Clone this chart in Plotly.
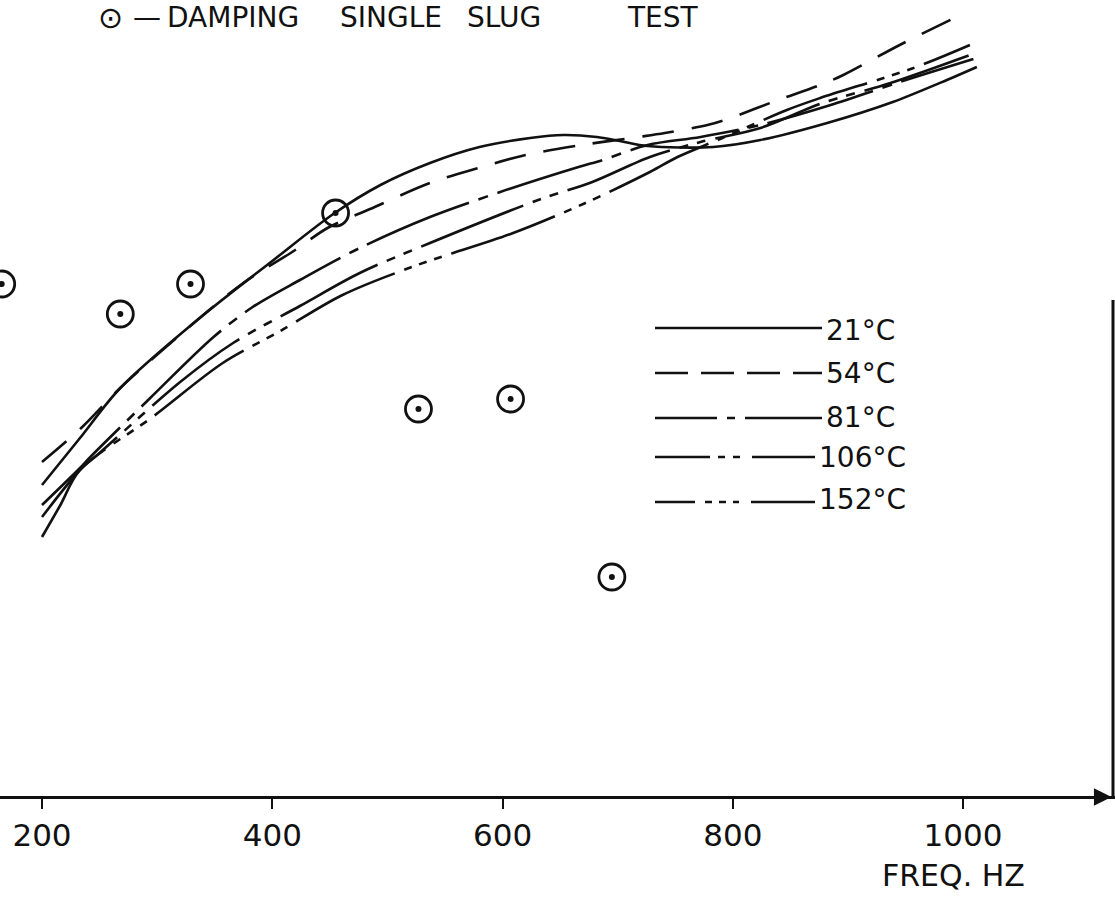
import plotly.graph_objects as go

# ---------------- data (y in arbitrary units above the axis) ----------------
FREQ_TICKS = [200, 400, 600, 800, 1000]

T21_F = [200, 233, 268, 337, 400, 453, 494, 537, 580, 624, 653, 682, 702, 726, 783, 824, 882, 939, 986, 1012]
T21_Y = [31.2, 35.9, 40.9, 47.9, 53.6, 58.3, 61.2, 63.4, 65.0, 65.9, 66.2, 66.0, 65.6, 65.1, 65.0, 65.7, 67.4, 69.5, 71.7, 73.0]

T54_F = [200, 235, 268, 337, 376, 420, 448, 489, 537, 579, 620, 669, 718, 741, 778, 798, 837, 876, 896, 945, 1003]
T54_Y = [33.5, 37.0, 40.9, 47.9, 51.5, 54.7, 56.9, 59.0, 61.4, 62.9, 64.2, 65.2, 66.0, 66.4, 67.2, 67.9, 69.6, 71.2, 72.2, 75.2, 78.5]

T81_F = [200, 233, 242, 294, 349, 383, 424, 476, 537, 598, 666, 687, 726, 772, 824, 885, 945, 1009]
T81_Y = [29.2, 32.9, 34.0, 39.9, 46.0, 49.0, 51.7, 54.9, 58.0, 60.5, 63.0, 63.7, 65.2, 66.0, 67.2, 69.2, 71.5, 73.8]

T106_F = [200, 233, 250, 320, 366, 424, 476, 537, 631, 678, 728, 772, 824, 878, 937, 1006]
T106_Y = [28.0, 32.7, 34.4, 41.5, 45.4, 49.1, 52.4, 55.4, 59.7, 61.5, 64.0, 65.5, 66.9, 69.4, 71.4, 74.2]

T152_F = [200, 216, 233, 296, 357, 407, 461, 526, 607, 672, 728, 752, 791, 847, 876, 957, 1006]
T152_Y = [26.0, 29.2, 32.7, 38.0, 43.4, 46.6, 50.2, 53.2, 56.3, 59.4, 62.5, 64.0, 65.9, 68.7, 69.9, 72.9, 75.2]

SLUG_F = [165, 268, 329, 455, 527, 607, 695]
SLUG_Y = [51.3, 48.3, 51.3, 58.4, 38.8, 39.8, 22.0]

SERIES = [
    ("21°C", T21_F, T21_Y, "solid"),
    ("54°C", T54_F, T54_Y, "32px,18px"),
    ("81°C", T81_F, T81_Y, "110px,10px,10px,10px"),
    ("106°C", T106_F, T106_Y, "110px,10px,9px,9px,9px,10px"),
    ("152°C", T152_F, T152_Y, "110px,10px,8px,8px,8px,8px,8px,10px"),
]

LEGEND_DASH = {
    "21°C": "solid",
    "54°C": "33px,13px",
    "81°C": "62px,10px,8px,10px,300px",
    "106°C": "55px,8px,7px,8px,7px,12px,300px",
    "152°C": "40px,10px,7px,7px,7px,7px,6px,12px,300px",
}

W, H = 1115, 899
FONT = "DejaVu Sans"
INK = "#111111"


def px(x):
    return x / W


def py(y):
    return 1 - y / H


fig = go.Figure()

for name, fx, fy, dash in SERIES:
    fig.add_trace(go.Scatter(
        x=fx, y=fy, mode="lines", name=name,
        line=dict(color=INK, width=2.6, dash=dash, shape="spline", smoothing=0.9),
        showlegend=False,
    ))

fig.add_trace(go.Scatter(
    x=SLUG_F, y=SLUG_Y, mode="markers", name="DAMPING SINGLE SLUG TEST",
    marker=dict(symbol="circle-open", size=26, color=INK, line=dict(color=INK, width=2.8)),
    showlegend=False,
))
fig.add_trace(go.Scatter(
    x=SLUG_F, y=SLUG_Y, mode="markers", name="centre dots",
    marker=dict(symbol="circle", size=6, color=INK),
    showlegend=False, hoverinfo="skip",
))

shapes = []
annotations = []

# legend samples drawn by hand, as in the original
legend_rows = [("21°C", 328, 330), ("54°C", 373, 373), ("81°C", 418, 417),
               ("106°C", 457, 457), ("152°C", 502, 499)]
for label, ly, ty in legend_rows:
    x_end = 822 if label in ("21°C", "54°C", "81°C") else 815
    shapes.append(dict(type="line", xref="paper", yref="paper",
                       x0=px(655), x1=px(x_end), y0=py(ly), y1=py(ly),
                       line=dict(color=INK, width=2.6, dash=LEGEND_DASH[label])))
    annotations.append(dict(text=label, xref="paper", yref="paper",
                            x=px(x_end + 2), y=py(ty), xanchor="left", yanchor="middle",
                            showarrow=False, font=dict(family=FONT, size=28, color=INK)))

# right-hand frame line
shapes.append(dict(type="line", xref="paper", yref="paper",
                   x0=px(1113), x1=px(1113), y0=py(797), y1=py(300),
                   line=dict(color=INK, width=3)))

# arrow head at the end of the frequency axis
annotations.append(dict(x=1129, y=0, xref="x", yref="y", ax=-28, ay=0, text="",
                        showarrow=True, arrowhead=2, arrowsize=1.6, arrowwidth=2.2,
                        arrowcolor=INK))

# title words
title_words = [("⊙", 96, 30), ("—", 131, 28), ("DAMPING", 165, 28), ("SINGLE", 338, 28),
               ("SLUG", 465, 28), ("TEST", 625, 28)]
for word, x0, sz in title_words:
    annotations.append(dict(text=word, xref="paper", yref="paper", x=px(x0), y=py(18),
                            xanchor="left", yanchor="middle", showarrow=False,
                            font=dict(family=FONT, size=sz, color=INK)))

annotations.append(dict(text="FREQ. HZ", xref="paper", yref="paper", x=px(880), y=py(875),
                        xanchor="left", yanchor="middle", showarrow=False,
                        font=dict(family=FONT, size=30, color=INK)))

fig.update_layout(
    width=W, height=H,
    margin=dict(l=0, r=0, t=0, b=0),
    paper_bgcolor="white", plot_bgcolor="white",
    shapes=shapes, annotations=annotations,
    showlegend=False,
    xaxis=dict(range=[163.52, 1132.0], anchor="free", position=(H - 797) / H,
               showline=True, linecolor=INK, linewidth=3,
               ticks="outside", ticklen=10, tickwidth=2, tickcolor=INK,
               tickvals=FREQ_TICKS, ticktext=[str(v) for v in FREQ_TICKS],
               tickfont=dict(family=FONT, size=31, color=INK),
               showgrid=False, zeroline=False, fixedrange=True),
    yaxis=dict(range=[-10.2, 79.7], visible=False, showgrid=False, zeroline=False,
               fixedrange=True),
)

fig.write_html("out.html")
